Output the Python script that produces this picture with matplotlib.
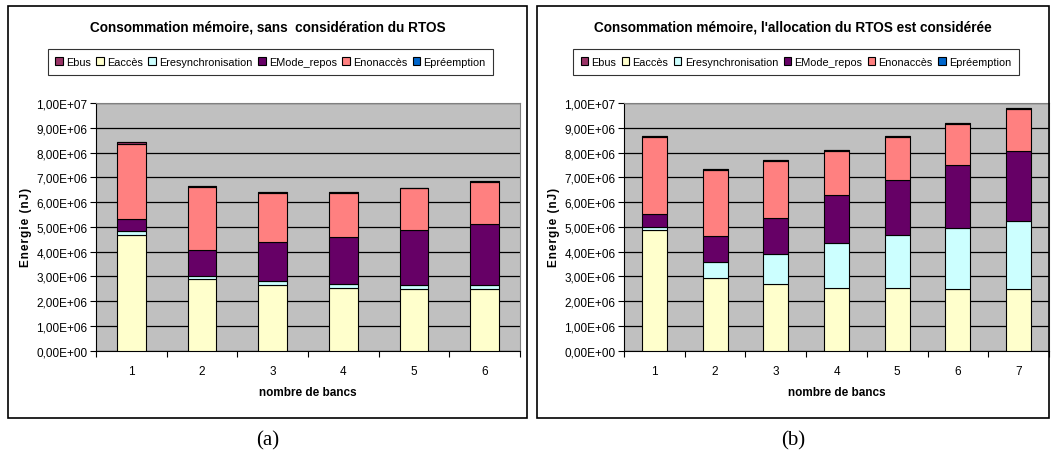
import matplotlib.pyplot as plt
from matplotlib.patches import Rectangle
from matplotlib.ticker import FuncFormatter

plt.rcParams['font.family'] = ['Liberation Sans', 'DejaVu Sans']

series = ['Ebus', 'Eaccès', 'Eresynchronisation', 'EMode_repos', 'Enonaccès', 'Epréemption']
colors = {'Ebus': '#993366', 'Eaccès': '#FFFFCC', 'Eresynchronisation': '#CCFFFF',
          'EMode_repos': '#660066', 'Enonaccès': '#FF8080', 'Epréemption': '#0066CC'}
stack_order = ['Eaccès', 'Eresynchronisation', 'EMode_repos', 'Enonaccès', 'Ebus', 'Epréemption']

# (a) sans RTOS
bancs_a = [1, 2, 3, 4, 5, 6]
a_acces = [4.69e6, 2.88e6, 2.67e6, 2.54e6, 2.51e6, 2.51e6]
a_resync = [0.13e6, 0.13e6, 0.16e6, 0.17e6, 0.16e6, 0.16e6]
a_repos = [0.51e6, 1.04e6, 1.57e6, 1.87e6, 2.20e6, 2.45e6]
a_nonacces = [3.03e6, 2.57e6, 1.96e6, 1.79e6, 1.69e6, 1.71e6]
a_bus = [0.05e6, 0.02e6, 0.05e6, 0.02e6, 0.02e6, 0.02e6]
a_preemption = [0, 0, 0, 0, 0, 0]

# (b) avec RTOS
bancs_b = [1, 2, 3, 4, 5, 6, 7]
b_acces = [4.87e6, 2.93e6, 2.69e6, 2.55e6, 2.55e6, 2.51e6, 2.51e6]
b_resync = [0.12e6, 0.66e6, 1.22e6, 1.81e6, 2.11e6, 2.45e6, 2.72e6]
b_repos = [0.51e6, 1.03e6, 1.43e6, 1.94e6, 2.22e6, 2.55e6, 2.85e6]
b_nonacces = [3.12e6, 2.68e6, 2.33e6, 1.77e6, 1.73e6, 1.64e6, 1.67e6]
b_bus = [0.06e6, 0.05e6, 0.02e6, 0.05e6, 0.06e6, 0.05e6, 0.06e6]
b_preemption = [0, 0, 0, 0, 0, 0, 0]

titles = ['Consommation mémoire, sans  considération du RTOS',
          "Consommation mémoire, l'allocation du RTOS est considérée"]

W, H = 1051, 460
fig = plt.figure(figsize=(W / 100, H / 100), dpi=100)


def fx(px):
    return px / W


def fy(py):
    return 1 - py / H


def sci(v, pos):
    s = '%.2E' % v
    return s.replace('.', ',')


panels = [
    dict(x=bancs_a, data={'Eaccès': a_acces, 'Eresynchronisation': a_resync, 'EMode_repos': a_repos,
                          'Enonaccès': a_nonacces, 'Ebus': a_bus, 'Epréemption': a_preemption},
         frame=(8, 527), plot=(96, 520), caption='(a)'),
    dict(x=bancs_b, data={'Eaccès': b_acces, 'Eresynchronisation': b_resync, 'EMode_repos': b_repos,
                          'Enonaccès': b_nonacces, 'Ebus': b_bus, 'Epréemption': b_preemption},
         frame=(537, 1049), plot=(624, 1049), caption='(b)'),
]

# slightly letter-spaced axis label
ylabel = '\u200a'.join('Energie (nJ)')

for i, p in enumerate(panels):
    fl, fr = p['frame']
    fig.patches.append(Rectangle((fx(fl), fy(419)), fx(fr - fl), (419 - 7) / H,
                                 transform=fig.transFigure, fill=False, edgecolor='black', lw=1.2))
    pl, pr = p['plot']
    ax = fig.add_axes([fx(pl), fy(351.7), fx(pr - pl), (351.7 - 104) / H])
    ax.set_facecolor('#C0C0C0')
    n = len(p['x'])
    bottom = [0] * n
    handles = {}
    for s in stack_order:
        vals = p['data'][s]
        b = ax.bar(p['x'], vals, width=0.41, bottom=bottom, color=colors[s],
                   edgecolor='black', linewidth=0.8, zorder=3, label=s)
        handles[s] = b
        bottom = [bb + v for bb, v in zip(bottom, vals)]
    ax.set_ylim(0, 1e7)
    ax.set_xlim(0.5, n + 0.5)
    ax.set_yticks([k * 1e6 for k in range(11)])
    ax.yaxis.set_major_formatter(FuncFormatter(sci))
    ax.yaxis.grid(True, color='black', lw=0.9, zorder=1)
    ax.set_axisbelow(True)
    ax.set_xticks([k + 0.5 for k in range(n + 1)])
    ax.set_xticklabels([])
    ax.set_xticks(p['x'], minor=True)
    ax.set_xticklabels([str(v) for v in p['x']], minor=True)
    ax.tick_params(axis='x', which='major', length=4, direction='out')
    ax.tick_params(axis='x', which='minor', length=0, pad=10, labelsize=8.5)
    ax.tick_params(axis='y', length=4, labelsize=8.5, pad=2)
    for side in ['top', 'right']:
        ax.spines[side].set_color('#808080')
    ax.spines['left'].set_color('black')
    ax.spines['bottom'].set_color('black')
    ax.set_xlabel('nombre de bancs', fontsize=8.5, fontweight='bold', labelpad=7)
    ax.set_ylabel(ylabel, fontsize=8.5, fontweight='bold', labelpad=3)

    cx = (fl + fr) / 2
    fig.text(fx(cx), fy(27), titles[i], ha='center', va='center', fontsize=9.8, fontweight='bold')
    leg = fig.legend([handles[s] for s in series], series, loc='center', ncol=6,
                     bbox_to_anchor=(fx(cx + 3), fy(63)), fontsize=7.8, frameon=True,
                     fancybox=False, edgecolor='black', handlelength=0.7, handleheight=0.7,
                     handletextpad=0.3, columnspacing=0.5, borderpad=0.7, borderaxespad=0)
    leg.get_frame().set_linewidth(0.8)
    fig.text(fx(cx), fy(441), p['caption'], ha='center', va='center', fontsize=15,
             family=['Liberation Serif', 'DejaVu Serif'])

fig.savefig('out.png', dpi=100)
